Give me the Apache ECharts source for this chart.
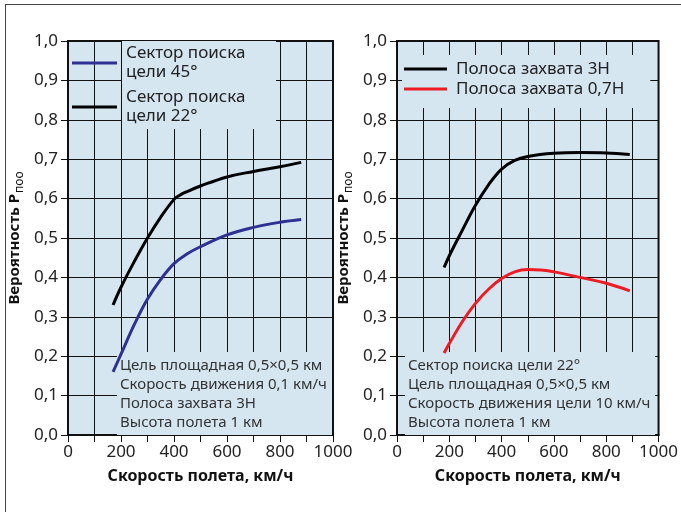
<!DOCTYPE html>
<html>
<head>
<meta charset="utf-8">
<script src="https://cdn.jsdelivr.net/npm/echarts@6/dist/echarts.min.js"></script>
<style>
  html, body { margin: 0; padding: 0; background: #fff; }
  #frame { position: absolute; left: 5px; top: 4px; width: 676px; height: 508px;
           border-left: 1px solid #444; border-top: 1px solid #444; }
  #chart { position: absolute; left: 0; top: 0; width: 681px; height: 512px; }
</style>
</head>
<body>
<div id="frame"></div>
<div id="chart"></div>
<script>
// left panel: sector 45° / 22°
const speed45 = [170, 200, 250, 300, 350, 400, 450, 500, 600, 700, 800, 880];
const prob45 = [0.16, 0.205, 0.28, 0.345, 0.395, 0.435, 0.46, 0.478, 0.508, 0.527, 0.54, 0.547];
const speed22 = [170, 200, 250, 300, 350, 400, 420, 450, 500, 600, 700, 800, 880];
const prob22 = [0.33, 0.375, 0.44, 0.50, 0.553, 0.598, 0.608, 0.618, 0.632, 0.655, 0.669, 0.681, 0.692];

// right panel: swath 3H / 0,7H
const speed3H = [180, 200, 250, 300, 350, 400, 450, 500, 600, 700, 800, 890];
const prob3H = [0.425, 0.455, 0.52, 0.583, 0.635, 0.675, 0.697, 0.707, 0.715, 0.717, 0.716, 0.712];
const speed07H = [180, 200, 250, 300, 350, 400, 450, 500, 550, 600, 700, 800, 890];
const prob07H = [0.208, 0.232, 0.288, 0.334, 0.37, 0.397, 0.414, 0.42, 0.419, 0.414, 0.40, 0.385, 0.366];

const leftNotes = ['Цель площадная 0,5×0,5 км', 'Скорость движения 0,1 км/ч', 'Полоса захвата 3Н', 'Высота полета 1 км'];
const rightNotes = ['Сектор поиска цели 22°', 'Цель площадная 0,5×0,5 км', 'Скорость движения цели 10 км/ч', 'Высота полета 1 км'];

const FONT = 'Noto Sans';
const BG = '#d5e6f0';

function pairs(xs, ys) {
  return xs.map((x, i) => [x, ys[i]]);
}

function xAxisOf(idx) {
  return {
    type: 'value', gridIndex: idx, min: 0, max: 1000, interval: 100,
    name: 'Скорость полета, км/ч', nameLocation: 'middle', nameGap: 33,
    nameTextStyle: { fontFamily: FONT, fontSize: 16, fontWeight: 'bold', color: '#111' },
    axisLine: { lineStyle: { color: '#111', width: 2 } },
    axisTick: { show: true, inside: false, length: 7, lineStyle: { color: '#111' } },
    axisLabel: {
      margin: 9, fontFamily: FONT, fontSize: 17, color: '#222',
      formatter: v => (v % 200 === 0 ? String(v) : '')
    },
    splitLine: { show: true, lineStyle: { color: '#111', width: 1 } }
  };
}

function yAxisOf(idx) {
  return {
    type: 'value', gridIndex: idx, min: 0, max: 1, interval: 0.1,
    name: '{a|Вероятность P}{s|поо}', nameLocation: 'middle', nameGap: 42, nameRotate: 90,
    nameTextStyle: {
      fontFamily: FONT, color: '#111',
      rich: {
        a: { fontFamily: FONT, fontSize: 15, fontWeight: 'bold', color: '#111' },
        s: { fontFamily: FONT, fontSize: 12, fontWeight: 'normal', color: '#111', padding: [11, 0, 0, 1] }
      }
    },
    axisLine: { show: true, lineStyle: { color: '#111', width: 2 } },
    axisTick: { show: true, inside: false, length: 7, lineStyle: { color: '#111' } },
    axisLabel: {
      margin: 10, fontFamily: FONT, fontSize: 17, color: '#222',
      formatter: v => v.toFixed(1).replace('.', ',')
    },
    splitLine: { show: true, lineStyle: { color: '#111', width: 1 } }
  };
}

function lineSeries(name, xs, ys, color, idx) {
  return {
    type: 'line', name: name, xAxisIndex: idx, yAxisIndex: idx,
    data: pairs(xs, ys), smooth: 0.4, showSymbol: false,
    lineStyle: { color: color, width: 3 }, itemStyle: { color: color }
  };
}

const chart = echarts.init(document.getElementById('chart'));
chart.setOption({
  animation: false,
  textStyle: { fontFamily: FONT },
  grid: [
    { left: 68, top: 41, width: 265, height: 394, show: true, backgroundColor: BG, borderColor: '#111', borderWidth: 2 },
    { left: 397, top: 41, width: 265, height: 394, show: true, backgroundColor: BG, borderColor: '#111', borderWidth: 2 }
  ],
  xAxis: [xAxisOf(0), xAxisOf(1)],
  yAxis: [yAxisOf(0), yAxisOf(1)],
  legend: [
    {
      data: ['Сектор поиска\nцели 45°', 'Сектор поиска\nцели 22°'],
      orient: 'vertical', left: 72, top: 41, padding: 0, itemGap: 0,
      icon: 'rect', itemWidth: 45, itemHeight: 3,
      textStyle: {
        fontFamily: FONT, fontSize: 17, color: '#222', lineHeight: 19,
        backgroundColor: BG, width: 146, padding: [2, 4, 4, 4]
      }
    },
    {
      data: ['Полоса захвата 3Н', 'Полоса захвата 0,7Н'],
      orient: 'vertical', left: 402, top: 55, padding: [4, 26, 9, 2], itemGap: 0,
      backgroundColor: BG,
      icon: 'rect', itemWidth: 43, itemHeight: 3,
      textStyle: { fontFamily: FONT, fontSize: 17, color: '#222', lineHeight: 20, padding: [0, 0, 0, 4] }
    }
  ],
  title: [
    {
      text: leftNotes.join('\n'), left: 117, top: 352, z: 1,
      backgroundColor: BG, padding: [4, 0, 3, 3],
      textStyle: { fontFamily: FONT, fontSize: 15, fontWeight: 'normal', color: '#333', lineHeight: 19, width: 212 }
    },
    {
      text: rightNotes.join('\n'), left: 405, top: 352, z: 1,
      backgroundColor: BG, padding: [4, 0, 3, 3],
      textStyle: { fontFamily: FONT, fontSize: 15, fontWeight: 'normal', color: '#333', lineHeight: 19, width: 247 }
    }
  ],
  series: [
    lineSeries('Сектор поиска\nцели 45°', speed45, prob45, '#2e3192', 0),
    lineSeries('Сектор поиска\nцели 22°', speed22, prob22, '#000000', 0),
    lineSeries('Полоса захвата 3Н', speed3H, prob3H, '#000000', 1),
    lineSeries('Полоса захвата 0,7Н', speed07H, prob07H, '#ed1c24', 1)
  ]
});
</script>
</body>
</html>
